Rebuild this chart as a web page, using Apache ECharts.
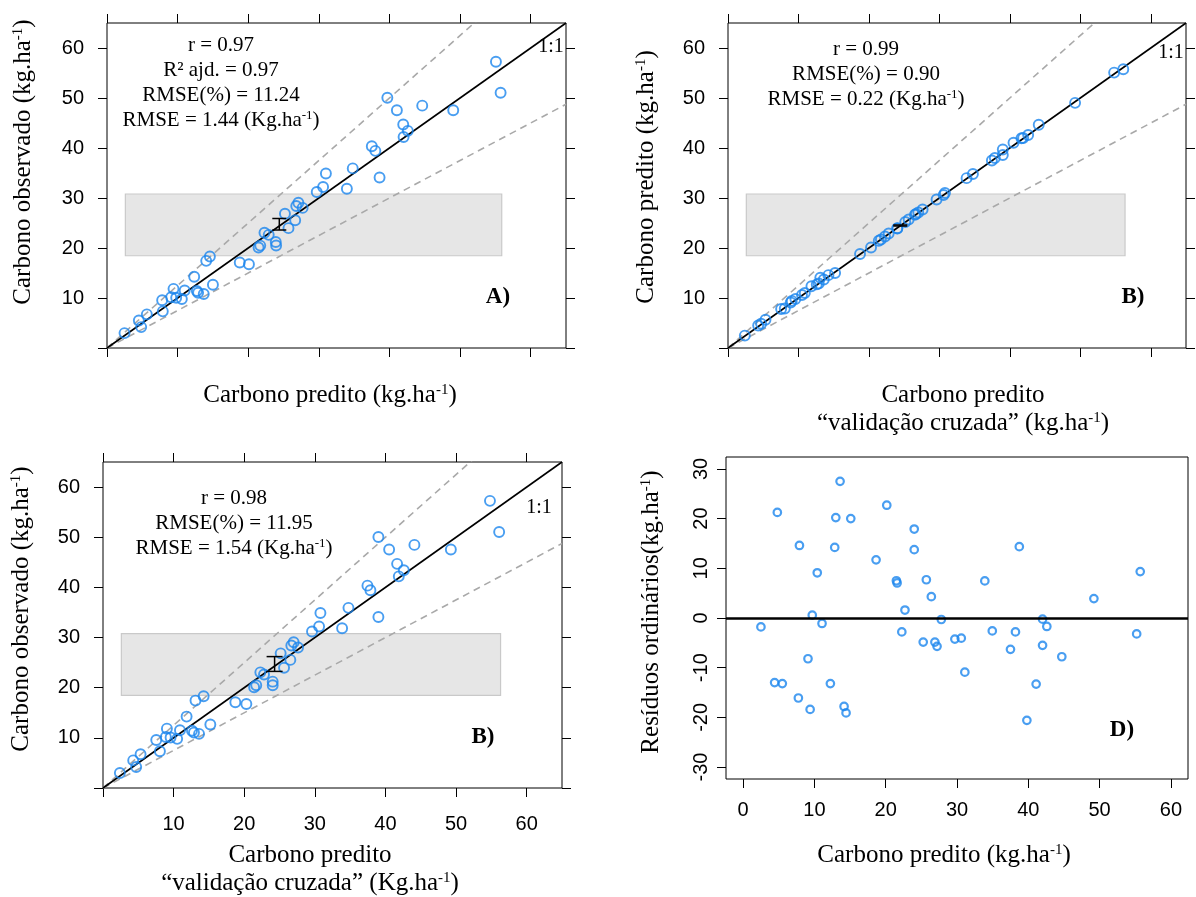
<!DOCTYPE html>
<html>
<head>
<meta charset="utf-8">
<script src="https://cdn.jsdelivr.net/npm/echarts@6/dist/echarts.min.js"></script>
<style>html,body{margin:0;padding:0;background:#fff}#main{width:1196px;height:897px}</style>
</head>
<body>
<div id="main"></div>
<script>
// observed carbon (shared by panels A and C)
var observed = [2.98, 5.5, 4.18, 6.73, 9.56, 7.33, 11.83, 10.16, 10.06, 9.8, 11.5, 14.24, 11.41, 11.05, 10.8, 12.65,
  17.43, 18.3, 17.1, 16.74, 20.1, 20.48, 23.06, 22.63, 21.2, 20.5, 26.85, 23.97, 25.54, 28.4, 29.05, 28.02,
  31.21, 32.21, 34.9, 31.86, 35.92, 34.1, 40.35, 39.43, 50.05, 47.54, 44.69, 42.2, 43.43, 48.47, 47.54, 57.25, 51.04];
// predicted carbon (panel A x, panel B y)
var predicted = [2.48, 4.51, 4.84, 5.64, 7.81, 7.9, 9.42, 9.09, 9.8, 10.6, 11.0, 12.35, 12.72, 12.9, 13.7, 15.0,
  14.05, 14.57, 18.8, 20.1, 21.46, 21.7, 22.3, 22.9, 23.9, 23.95, 25.2, 25.7, 26.65, 26.8, 27.1, 27.7,
  29.7, 30.6, 31.0, 33.97, 34.8, 38.6, 37.5, 38.0, 39.7, 41.05, 41.95, 42.0, 42.6, 44.64, 49.03, 55.08, 55.74];
// cross-validation predicted (panel C x, panel B x)
var cvPredicted = [2.39, 4.28, 4.7, 5.32, 7.54, 8.06, 9.05, 8.9, 9.57, 10.5, 10.9, 11.84, 12.6, 12.88, 13.6, 15.2,
  13.1, 14.25, 18.74, 20.3, 21.4, 21.7, 22.28, 22.8, 24.03, 24.03, 25.16, 25.64, 26.53, 26.67, 27.0, 27.62,
  29.6, 30.6, 30.79, 33.86, 34.76, 39.0, 37.45, 37.87, 39.0, 40.52, 41.65, 41.89, 42.6, 44.1, 49.26, 54.8, 56.1];
// panel D residuals
var residX = [2.5, 4.42, 4.8, 5.5, 7.75, 7.9, 9.1, 9.4, 9.7, 10.4, 11.07, 12.24, 12.85, 13.0, 13.6, 14.16, 14.44,
  15.1, 18.65, 20.15, 21.5, 21.6, 22.26, 22.7, 24.0, 24.0, 25.26, 25.7, 26.4, 26.9, 27.2, 27.8, 29.7, 30.6, 31.1,
  33.9, 34.95, 37.5, 38.2, 38.74, 39.8, 41.1, 42.0, 42.0, 42.6, 44.7, 49.2, 55.2, 55.7];
var residY = [-1.8, -13.0, 21.25, -13.2, -16.1, 14.6, -8.2, -18.4, 0.57, 9.1, -1.1, -13.2, 14.2, 20.2, 27.5, -17.8, -19.1,
  20.0, 11.7, 22.7, 7.5, 7.05, -2.8, 1.6, 17.9, 13.75, -4.85, 7.7, 4.3, -4.85, -5.7, -0.3, -4.25, -4.05, -10.9,
  7.46, -2.6, -6.3, -2.8, 14.36, -20.6, -13.3, -0.23, -5.5, -1.7, -7.8, 3.9, -3.2, 9.34];

var tickValues = [0, 10, 20, 30, 40, 50, 60];
var labelValues = [10, 20, 30, 40, 50, 60];
var residTicks = [-30, -20, -10, 0, 10, 20, 30];
var refSlopes = [1, 1.25, 0.75];
var bandY = [18.45, 30.8];
var bandXA = [2.6, 55.9], bandXB = [2.6, 56.35], bandXC = [2.6, 56.3];
var errA = [24.4, 23.6, 25.9], errB = [24.45, 24.4, 24.6], errC = [24.3, 23.25, 26.2];

var SERIF = '"Liberation Serif", "Times New Roman", serif';
var SANS = '"Liberation Sans", Arial, sans-serif';
var BLUE = '#1c86ee';
var AXMAX = 65;

var chart = echarts.init(document.getElementById('main'));

function zip(xs, ys) { return xs.map(function (x, i) { return [x, ys[i]]; }); }

function axis(grid, pos, showLabels, margin) {
  return {
    type: 'value', gridIndex: grid, position: pos, min: 0, max: AXMAX,
    axisLine: {show: false, onZero: false}, splitLine: {show: false},
    axisTick: {show: true, inside: false, length: 9, customValues: tickValues, lineStyle: {color: '#000', width: 1}},
    axisLabel: {show: showLabels, customValues: labelValues, color: '#000', fontFamily: SANS, fontSize: 20, margin: margin}
  };
}

function panel(i, pts, bandX, err, capW) {
  var ax = {xAxisIndex: i * 2, yAxisIndex: i * 2};
  var list = [];
  list.push(Object.assign({
    type: 'custom', z: 0, silent: true,
    encode: {x: [0, 2], y: [1, 3]},
    data: [[bandX[0], bandY[0], bandX[1], bandY[1]]],
    renderItem: function (p, api) {
      var a = api.coord([api.value(0), api.value(3)]);
      var b = api.coord([api.value(2), api.value(1)]);
      return {type: 'rect', shape: {x: a[0], y: a[1], width: b[0] - a[0], height: b[1] - a[1]},
        style: {fill: '#e6e6e6', stroke: '#c9c9c9', lineWidth: 1.2}};
    }
  }, ax));
  refSlopes.forEach(function (s, k) {
    list.push(Object.assign({
      type: 'line', silent: true, symbol: 'none', clip: true, z: k === 0 ? 3 : 2,
      data: [[0, 0], [AXMAX, AXMAX * s]],
      lineStyle: {color: k === 0 ? '#000' : '#a9a9a9', width: 1.6, type: k === 0 ? 'solid' : [7, 5]}
    }, ax));
  });
  list.push(Object.assign({
    type: 'scatter', z: 4, symbol: 'circle', symbolSize: 10, data: pts,
    itemStyle: {color: 'rgba(0,0,0,0)', borderColor: BLUE, borderWidth: 1.9}
  }, ax));
  list.push(Object.assign({
    type: 'custom', z: 5, silent: true,
    encode: {x: 0, y: [1, 2]},
    data: [err],
    renderItem: function (p, api) {
      var lo = api.coord([api.value(0), api.value(1)]);
      var hi = api.coord([api.value(0), api.value(2)]);
      var h = capW / 2, st = {stroke: '#000', lineWidth: 1.5};
      return {type: 'group', children: [
        {type: 'line', shape: {x1: lo[0], y1: lo[1], x2: hi[0], y2: hi[1]}, style: st},
        {type: 'line', shape: {x1: lo[0] - h, y1: lo[1], x2: lo[0] + h, y2: lo[1]}, style: st},
        {type: 'line', shape: {x1: hi[0] - h, y1: hi[1], x2: hi[0] + h, y2: hi[1]}, style: st}
      ]};
    }
  }, ax));
  return list;
}

function label(x, y, text, size, opt) {
  opt = opt || {};
  return {
    type: 'text', x: x, y: y, rotation: opt.rot || 0, silent: true, z: 100,
    style: {
      text: text, fill: '#000', fontFamily: SERIF, fontSize: size, fontWeight: opt.bold ? 'bold' : 'normal',
      align: 'center', verticalAlign: 'middle', textAlign: 'center', textVerticalAlign: 'middle',
      rich: {s: {fontSize: Math.round(size * 0.6), fontFamily: SERIF, verticalAlign: 'top', lineHeight: size}}
    }
  };
}

var series = []
  .concat(panel(0, zip(predicted, observed), bandXA, errA, 14))
  .concat(panel(1, zip(cvPredicted, predicted), bandXB, errB, 14))
  .concat(panel(2, zip(cvPredicted, observed), bandXC, errC, 16));

series.push({
  type: 'scatter', xAxisIndex: 6, yAxisIndex: 6, z: 4, symbol: 'circle', symbolSize: 7.5,
  data: zip(residX, residY),
  itemStyle: {color: 'rgba(0,0,0,0)', borderColor: BLUE, borderWidth: 2.2},
  markLine: {silent: true, symbol: 'none', label: {show: false}, animation: false,
    lineStyle: {color: '#000', width: 2.5, type: 'solid'}, data: [{yAxis: 0}]}
});

var TS = 25, SS = 21;
var graphic = [
  label(221, 45, 'r = 0.97', SS), label(221, 70, 'R² ajd. = 0.97', SS),
  label(221, 95, 'RMSE(%) = 11.24', SS), label(221, 120, 'RMSE = 1.44 (Kg.ha{s|-1})', SS),
  label(866, 49, 'r = 0.99', SS), label(866, 74, 'RMSE(%) = 0.90', SS),
  label(866, 99, 'RMSE = 0.22 (Kg.ha{s|-1})', SS),
  label(234, 498, 'r = 0.98', SS), label(234, 523, 'RMSE(%) = 11.95', SS),
  label(234, 548, 'RMSE = 1.54 (Kg.ha{s|-1})', SS),
  label(551, 47, '1:1', 20), label(1171, 53, '1:1', 20), label(539, 508, '1:1', 20),
  label(498, 297, 'A)', 23, {bold: true}), label(1133, 297, 'B)', 23, {bold: true}),
  label(483, 737, 'B)', 23, {bold: true}), label(1122, 730, 'D)', 23, {bold: true}),
  label(330, 395, 'Carbono predito (kg.ha{s|-1})', TS),
  label(23, 162, 'Carbono observado (kg.ha{s|-1})', TS, {rot: Math.PI / 2}),
  label(646, 177, 'Carbono predito (kg.ha{s|-1})', TS, {rot: Math.PI / 2}),
  label(963, 395, 'Carbono predito', TS),
  label(963, 423, '“validação cruzada” (kg.ha{s|-1})', TS),
  label(21, 609, 'Carbono observado (kg.ha{s|-1})', TS, {rot: Math.PI / 2}),
  label(310, 855, 'Carbono predito', TS),
  label(310, 883, '“validação cruzada” (Kg.ha{s|-1})', TS),
  label(651, 612, 'Resíduos ordinários(kg.ha{s|-1})', TS, {rot: Math.PI / 2}),
  label(944, 855, 'Carbono predito (kg.ha{s|-1})', TS)
];

var option = {
  animation: false,
  backgroundColor: '#fff',
  grid: [
    {left: 107, top: 23, width: 459, height: 325},
    {left: 728, top: 23, width: 458, height: 325},
    {left: 103, top: 462, width: 459, height: 326},
    {left: 726, top: 457, width: 462, height: 322}
  ].map(function (g) { g.show = true; g.borderColor = '#000'; g.borderWidth = 1; return g; }),
  xAxis: [
    axis(0, 'bottom', false, 25), axis(0, 'top', false, 25),
    axis(1, 'bottom', false, 25), axis(1, 'top', false, 25),
    axis(2, 'bottom', true, 26), axis(2, 'top', false, 25),
    {
      type: 'value', gridIndex: 3, position: 'bottom', min: -2.4, max: 62.4,
      axisLine: {show: false, onZero: false}, splitLine: {show: false},
      axisTick: {show: true, length: 9, customValues: tickValues, lineStyle: {color: '#000'}},
      axisLabel: {customValues: tickValues, color: '#000', fontFamily: SANS, fontSize: 20, margin: 21}
    }
  ],
  yAxis: [
    axis(0, 'left', true, 23), axis(0, 'right', false, 23),
    axis(1, 'left', true, 23), axis(1, 'right', false, 23),
    axis(2, 'left', true, 23), axis(2, 'right', false, 23),
    {
      type: 'value', gridIndex: 3, position: 'left', min: -32.4, max: 32.4,
      axisLine: {show: false, onZero: false}, splitLine: {show: false},
      axisTick: {show: true, length: 9, customValues: residTicks, lineStyle: {color: '#000'}},
      axisLabel: {customValues: residTicks, rotate: 90, color: '#000', fontFamily: SANS, fontSize: 20, margin: 15}
    }
  ],
  series: series,
  graphic: graphic
};
chart.setOption(option);
</script>
</body>
</html>
